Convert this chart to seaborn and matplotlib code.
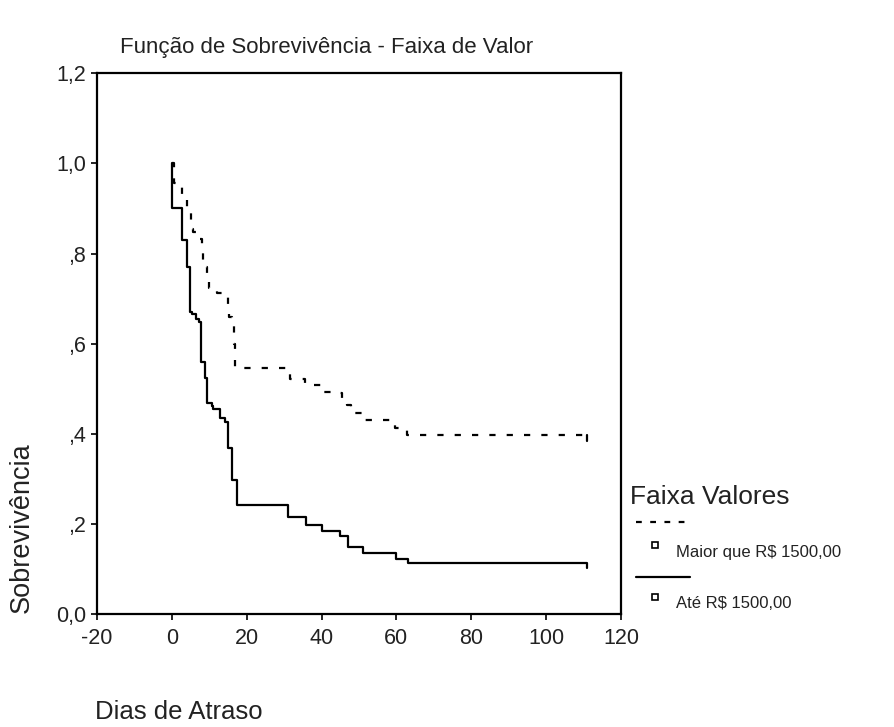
import matplotlib
matplotlib.use("Agg")
import matplotlib.pyplot as plt
import seaborn as sns
import pandas as pd
from matplotlib.lines import Line2D

# ---- data ----
grupos = ["Maior que R$ 1500,00", "Até R$ 1500,00"]

dias_maior = [0, 0.5, 2.7, 4.0, 5.0, 5.6, 6.4, 7.3, 8.0, 8.4, 8.9, 9.4, 10.0, 12.0,
              13.5, 14.9, 15.4, 16.0, 16.5, 17.0, 30.8, 31.5, 35.5, 40.0, 44.5, 45.5,
              46.9, 47.8, 50.7, 59.6, 62.7, 110.8]
sobrev_maior = [1.0, 0.957, 0.920, 0.894, 0.854, 0.848, 0.840, 0.832, 0.815, 0.786, 0.770,
                0.750, 0.723, 0.712, 0.706, 0.686, 0.660, 0.646, 0.600, 0.545, 0.534, 0.521,
                0.508, 0.493, 0.490, 0.475, 0.464, 0.447, 0.431, 0.412, 0.397, 0.385]

dias_ate = [0, 0.05, 2.7, 4.1, 4.8, 5.5, 6.5, 7.2, 7.9, 8.8, 9.5, 10.6, 11.0, 12.8, 14.1,
            15.0, 16.2, 17.3, 31.1, 35.8, 40.2, 44.9, 47.0, 51.0, 59.8, 63.0, 110.8]
sobrev_ate = [1.0, 0.900, 0.830, 0.771, 0.671, 0.665, 0.654, 0.647, 0.560, 0.523, 0.468,
              0.462, 0.454, 0.434, 0.427, 0.368, 0.297, 0.242, 0.216, 0.198, 0.184, 0.172,
              0.149, 0.136, 0.123, 0.113, 0.101]

yticks = [0.0, 0.2, 0.4, 0.6, 0.8, 1.0, 1.2]
ytick_labels = ["0,0", ",2", ",4", ",6", ",8", "1,0", "1,2"]
xticks = [-20, 0, 20, 40, 60, 80, 100, 120]

sns.set_theme(style="white")
plt.rcParams["font.family"] = ["Liberation Sans", "DejaVu Sans"]

W, H = 895, 727
fig = plt.figure(figsize=(W / 100, H / 100), dpi=100)
ax = fig.add_axes([97 / W, 1 - 614 / H, (621 - 97) / W, (614 - 73.3) / H])

df_m = pd.DataFrame({"Dias": dias_maior, "S": sobrev_maior})
df_a = pd.DataFrame({"Dias": dias_ate, "S": sobrev_ate})

lw = 1.6
dash = (0, (2.8, 5.0))
sns.lineplot(data=df_m, x="Dias", y="S", ax=ax, color="black", linewidth=lw,
             drawstyle="steps-post", estimator=None, sort=False, linestyle=dash)
sns.lineplot(data=df_a, x="Dias", y="S", ax=ax, color="black", linewidth=lw,
             drawstyle="steps-post", estimator=None, sort=False)
# final censoring tick of the dashed curve (drawn solid so it stays visible)
sns.lineplot(x=[dias_maior[-1], dias_maior[-1]], y=[sobrev_maior[-2], sobrev_maior[-1]],
             ax=ax, color="black", linewidth=lw, estimator=None, sort=False)

ax.set_xlim(-20, 120)
ax.set_ylim(0, 1.2)
ax.set_xticks(xticks)
ax.set_xticklabels([str(v) for v in xticks])
ax.set_yticks(yticks)
ax.set_yticklabels(ytick_labels)
ax.set_xlabel("")
ax.set_ylabel("")
for s in ax.spines.values():
    s.set_color("black")
    s.set_linewidth(1.6)
ax.tick_params(axis="both", which="both", direction="out", length=4, width=1.2,
               color="black", labelsize=15.5, labelcolor="#222222",
               bottom=True, left=True)
ax.tick_params(axis="x", pad=6)
ax.tick_params(axis="y", pad=4)
ax.grid(False)

# titles / labels
fig.text(120 / W, 1 - 47 / H, "Função de Sobrevivência - Faixa de Valor",
         ha="left", va="center", fontsize=16, color="#222222")
fig.text(22 / W, 1 - 613 / H, "Sobrevivência", rotation=90, ha="center",
         va="bottom", fontsize=19.5, color="#222222")
fig.text(95 / W, 1 - 712 / H, "Dias de Atraso", ha="left", va="center",
         fontsize=18.5, color="#222222")

# legend (custom layout)
fig.text(630 / W, 1 - 497 / H, "Faixa Valores", ha="left", va="center",
         fontsize=19, color="#222222")
fig.add_artist(Line2D([636 / W, 691 / W], [1 - 522 / H, 1 - 522 / H],
                      transform=fig.transFigure, color="black", linewidth=lw,
                      linestyle=(0, (2.6, 3.8))))
fig.add_artist(Line2D([655 / W], [1 - 545 / H], transform=fig.transFigure,
                      marker="s", markersize=5, markerfacecolor="white",
                      markeredgecolor="black", markeredgewidth=1.2, linestyle="none"))
fig.text(676 / W, 1 - 552 / H, grupos[0], ha="left", va="center",
         fontsize=12, color="#222222")
fig.add_artist(Line2D([636 / W, 690 / W], [1 - 577 / H, 1 - 577 / H],
                      transform=fig.transFigure, color="black", linewidth=lw))
fig.add_artist(Line2D([655 / W], [1 - 597 / H], transform=fig.transFigure,
                      marker="s", markersize=5, markerfacecolor="white",
                      markeredgecolor="black", markeredgewidth=1.2, linestyle="none"))
fig.text(676 / W, 1 - 603 / H, grupos[1], ha="left", va="center",
         fontsize=12, color="#222222")

fig.savefig("out.png", dpi=100, facecolor="white")
